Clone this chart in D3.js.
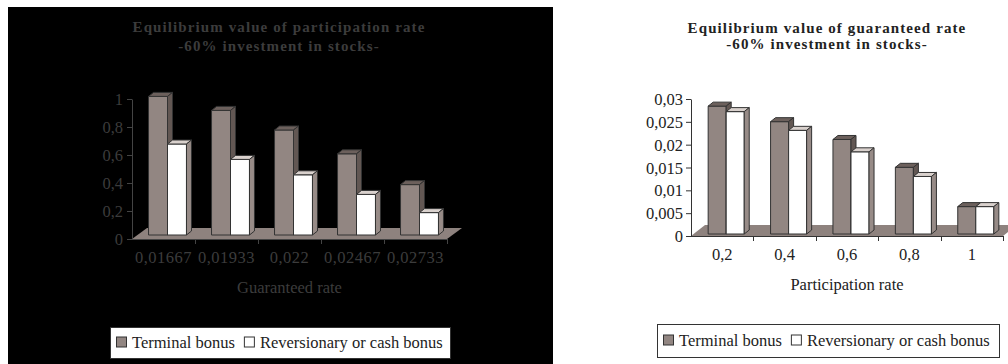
<!DOCTYPE html>
<html>
<head>
<meta charset="utf-8">
<script src="https://cdn.jsdelivr.net/npm/d3@7"></script>
</head>
<body style="margin:0;background:#fff">
<div id="g-container"></div>
<script>
// ---- data ----
var seriesNames = ["Terminal bonus", "Reversionary or cash bonus"];

var guaranteedRates = ["0,01667", "0,01933", "0,022", "0,02467", "0,02733"];
var participationTerminal = [0.99, 0.89, 0.75, 0.58, 0.36];
var participationReversionary = [0.65, 0.54, 0.43, 0.29, 0.16];
var participationTicks = [0, 0.2, 0.4, 0.6, 0.8, 1];

var participationRates = ["0,2", "0,4", "0,6", "0,8", "1"];
var guaranteedTerminal = [0.028, 0.0246, 0.0207, 0.0146, 0.006];
var guaranteedReversionary = [0.0268, 0.0227, 0.018, 0.0126, 0.006];
var guaranteedTicks = [0, 0.005, 0.01, 0.015, 0.02, 0.025, 0.03];

var W = 1008, H = 364;
var FONT = "Liberation Serif";
var svg = d3.select("#g-container").append("svg").attr("width", W).attr("height", H)
	.style("display", "block").style("font-family", FONT);

var comma = function(v){ return String(+v.toFixed(4)).replace(".", ","); };

// bar face colours: [front, top, side]
var faces = [
	["#928682", "#6c605c", "#625753"],
	["#ffffff", "#d9d1cd", "#978b87"]
];

function label(sel, size){
	return sel.style("font-family", FONT).style("font-size", size);
}

function drawChart(cfg){
	var g = svg.append("g");

	if(cfg.background){
		g.append("rect").attr("x", cfg.frame[0]).attr("y", cfg.frame[1])
			.attr("width", cfg.frame[2]).attr("height", cfg.frame[3])
			.attr("fill", cfg.background);
	}

	// title
	cfg.title.forEach(function(line, k){
		label(g.append("text"), "15px")
			.attr("x", cfg.titleX).attr("y", cfg.titleY[k])
			.attr("text-anchor", "middle").style("font-weight", "bold")
			.style("letter-spacing", "1.1px")
			.style("fill", cfg.titleColor).text(line);
	});

	var x0 = d3.scaleBand().domain(cfg.categories).range(cfg.xRange).paddingInner(0);
	var x1 = d3.scaleBand().domain([0, 1]).range([0, x0.bandwidth()]).paddingInner(0).paddingOuter(cfg.barPad);
	var y = d3.scaleLinear().domain(cfg.yDomain).range(cfg.yRange);

	var y0 = y(0);
	var xa = cfg.xRange[0], xb = cfg.xRange[1];
	var fd = cfg.floorDepth;

	// floor
	g.append("polygon")
		.attr("points", [[xa, y0], [xa + fd[0], y0 + fd[1]], [xb + fd[0], y0 + fd[1]], [xb, y0]].join(" "))
		.attr("fill", "#8e827e");

	// bars
	var sh = cfg.barShift, bd = cfg.barDepth;
	cfg.categories.forEach(function(cat, i){
		cfg.series.forEach(function(vals, s){
			var v = vals[i];
			var bx = x0(cat) + x1(s) + sh[0];
			var bw = x1.bandwidth();
			var top = y(v) + sh[1];
			var bot = y0 + sh[1];
			var bar = g.append("g").attr("stroke", "#333").attr("stroke-width", 1).attr("stroke-linejoin", "round");
			bar.append("rect").attr("x", bx).attr("y", top).attr("width", bw).attr("height", bot - top)
				.attr("fill", faces[s][0]);
			bar.append("polygon")
				.attr("points", [[bx, top], [bx + bd[0], top + bd[1]], [bx + bw + bd[0], top + bd[1]], [bx + bw, top]].join(" "))
				.attr("fill", faces[s][1]);
			bar.append("polygon")
				.attr("points", [[bx + bw, top], [bx + bw + bd[0], top + bd[1]], [bx + bw + bd[0], bot + bd[1]], [bx + bw, bot]].join(" "))
				.attr("fill", faces[s][2]);
		});
	});

	// y axis
	var yAxis = g.append("g").attr("transform", "translate(" + xa + ",0)")
		.call(d3.axisLeft(y).tickValues(cfg.yTicks).tickFormat(comma).tickSize(5).tickPadding(cfg.tickPad).tickSizeOuter(0));
	yAxis.attr("font-family", FONT);
	yAxis.select(".domain").attr("stroke", cfg.axisColor);
	yAxis.selectAll(".tick line").attr("stroke", cfg.axisColor);
	label(yAxis.selectAll(".tick text"), "16.5px").style("fill", cfg.textColor).attr("dy", "0.34em");

	// x axis line and ticks between categories
	g.append("line").attr("x1", xa).attr("x2", xb).attr("y1", y0 + 0.5).attr("y2", y0 + 0.5)
		.attr("stroke", cfg.axisColor);
	cfg.categories.forEach(function(cat){
		var tx = Math.round(x0(cat) + x0.bandwidth()) + 0.5;
		g.append("line").attr("x1", tx).attr("x2", tx).attr("y1", y0).attr("y2", y0 + 5)
			.attr("stroke", cfg.axisColor);
	});
	label(g.selectAll(".xlab").data(cfg.categories).enter().append("text"), "16.5px")
		.attr("x", function(d){ return x0(d) + x0.bandwidth() / 2; })
		.attr("y", y0 + 24)
		.attr("text-anchor", "middle")
		.style("letter-spacing", cfg.xLabelSpacing)
		.style("fill", cfg.textColor)
		.text(function(d){ return d; });

	label(g.append("text"), "16.5px").attr("x", (xa + xb) / 2).attr("y", y0 + cfg.xTitleOffset)
		.attr("text-anchor", "middle")
		.style("fill", cfg.textColor).text(cfg.xTitle);

	// legend
	var lb = cfg.legendBox;
	var lg = g.append("g");
	lg.append("rect").attr("x", lb[0] + 0.5).attr("y", lb[1] + 0.5).attr("width", lb[2]).attr("height", lb[3])
		.attr("fill", "#fff").attr("stroke", "#333");
	var cx = lb[0] + 6;
	var ly = lb[1] + lb[3] / 2;
	seriesNames.forEach(function(name, s){
		lg.append("rect").attr("x", cx + 0.5).attr("y", ly - 5.5).attr("width", 10).attr("height", 10)
			.attr("fill", faces[s][0]).attr("stroke", "#333");
		var t = label(lg.append("text"), "16.5px").attr("x", cx + 16).attr("y", ly + 5)
			.style("fill", "#222").text(name);
		cx = cx + 16 + t.node().getComputedTextLength() + 9;
	});
}

drawChart({
	background: "#000",
	frame: [8, 7, 545, 357],
	title: ["Equilibrium value of participation rate", "-60% investment in stocks-"],
	titleX: 279, titleY: [32, 51], titleColor: "#3c3c3c",
	categories: guaranteedRates,
	series: [participationTerminal, participationReversionary],
	yDomain: [0, 1], yRange: [239, 99], yTicks: participationTicks,
	xRange: [132, 447],
	barPad: 0.66,
	floorDepth: [15, -11], barShift: [4, -4], barDepth: [5, -4],
	axisColor: "#444", textColor: "#3c3c3c", tickPad: 4, xLabelSpacing: "0.5px",
	xTitle: "Guaranteed rate", xTitleOffset: 54,
	legendBox: [110, 327, 340, 31]
});

drawChart({
	background: null,
	title: ["Equilibrium value of guaranteed rate", "-60% investment in stocks-"],
	titleX: 827, titleY: [33, 49], titleColor: "#222",
	categories: participationRates,
	series: [guaranteedTerminal, guaranteedReversionary],
	yDomain: [0, 0.03], yRange: [236, 99], yTicks: guaranteedTicks,
	xRange: [691, 1003],
	barPad: 0.73,
	floorDepth: [14, -11], barShift: [4, -2], barDepth: [5, -4],
	axisColor: "#333", textColor: "#222", tickPad: 3, xLabelSpacing: "0px",
	xTitle: "Participation rate", xTitleOffset: 54,
	legendBox: [657, 324, 342, 33]
});
</script>
</body>
</html>
